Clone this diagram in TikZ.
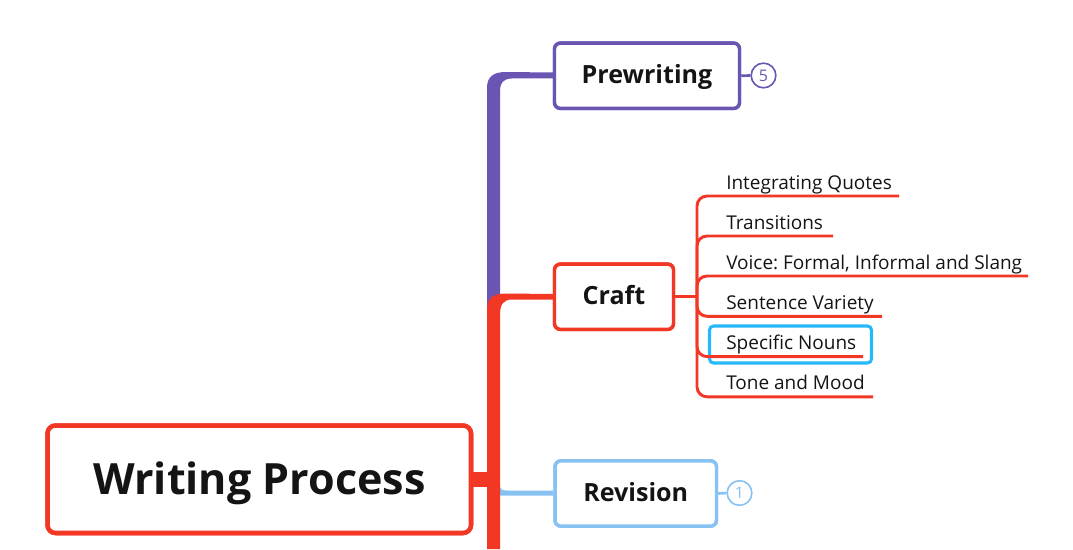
\documentclass[tikz,border=0pt]{standalone}
\usepackage{fontspec}
\setmainfont{Open Sans}
\frenchspacing
\definecolor{wred}{RGB}{243,55,37}
\definecolor{wpurple}{RGB}{106,86,178}
\definecolor{wblue}{RGB}{136,194,243}
\definecolor{wcyan}{RGB}{38,184,247}
\definecolor{wtext}{RGB}{20,20,20}
\begin{document}
\begin{tikzpicture}[x=0.75pt,y=-0.75pt,
  mainbox/.style={draw, line width=2.6pt, rounded corners=4.5pt, fill=white, inner sep=0pt,
    font=\fontsize{18.8}{22}\selectfont\bfseries, text=wtext, minimum height=49pt,
    text height=15.5pt, text depth=3.5pt},
  rootbox/.style={draw=wred, line width=3.4pt, rounded corners=6pt, fill=white, inner sep=0pt,
    font=\fontsize{32.3}{38}\selectfont\bfseries, text=wtext, minimum width=317.6pt, minimum height=80.6pt,
    text height=30pt, text depth=6.4pt},
  badge/.style={circle, draw, line width=1.2pt, fill=white, inner sep=0pt, minimum size=18.5pt,
    font=\fontsize{12}{14}\selectfont},
  childtext/.style={anchor=base west, inner sep=0pt, font=\fontsize{14.25}{17}\selectfont, text=wtext},
  ul/.style={draw=wred, line width=2.2pt, rounded corners=7.5pt},
  conn/.style={line width=2.2pt}
]
\useasboundingbox (0,0) rectangle (1073,549);

% nodes
\node[rootbox] (root) at (259.25,479.25) {Writing Process};
\node[mainbox, draw=wpurple, minimum width=138.75pt] (pre) at (647,75.75) {Prewriting};
\node[mainbox, draw=wred, minimum width=89.25pt] (craft) at (614,296.75) {Craft};
\node[mainbox, draw=wblue, minimum width=121.1pt] (rev) at (635.75,493.5) {Revision};
\node[badge, draw=wpurple, text=wpurple] (b5) at (763.5,75.5) {5};
\node[badge, draw=wblue, text=wblue] (b1) at (739.5,493) {1};

% spine branches
\fill[wblue] (499,483) .. controls (500,490) and (502,490.5) .. (508,490.5) -- (rev.west |- 0,490.5) -- (rev.west |- 0,495.5) -- (499,495.5) -- cycle;
\fill[wpurple] (487,312) -- (487,88) .. controls (487,77) and (493,72) .. (506,72) -- (pre.west |- 0,72.5) -- (pre.west |- 0,78.5) -- (512,78.5) .. controls (504,78.5) and (500,82) .. (500,92) -- (500,312) -- cycle;
\fill[wred] (487,549) -- (487,310) .. controls (487,298) and (493,293.5) .. (506,293.5) -- (craft.west |- 0,294) -- (craft.west |- 0,299.5) -- (512,299.5) .. controls (504,299.5) and (500,304) .. (500,314) -- (500,549) -- cycle;
\fill[wred] (root.east |- 0,472) rectangle (488,487);

% redraw boxes on top of branch ends
\node[rootbox] at (root) {Writing Process};
\node[mainbox, draw=wpurple, minimum width=138.75pt] at (pre) {Prewriting};
\node[mainbox, draw=wred, minimum width=89.25pt] at (craft) {Craft};
\node[mainbox, draw=wblue, minimum width=121.1pt] at (rev) {Revision};

\draw[wpurple, line width=2pt] (pre.east) -- (b5.west);
\draw[wblue, line width=2pt] (rev.east) -- (b1.west);

% craft children
\coordinate (j) at (697,296.75);
\draw[conn, wred] (craft.east) -- (j);
\node[childtext] (c1) at (726,189.3) {Integrating Quotes};
\node[childtext] (c2) at (726,229.3) {Transitions};
\node[childtext] (c3) at (726,269.3) {Voice: Formal, Informal and Slang};
\node[childtext] (c4) at (726,309.3) {Sentence Variety};
\node[draw=wcyan, line width=2.3pt, rounded corners=3pt, minimum width=121.5pt, minimum height=27.75pt, inner sep=0pt] (hl) at (790.5,344.5) {};
\node[childtext] (c5) at (726,349.6) {Specific Nouns};
\node[childtext] (c6) at (726,389.6) {Tone and Mood};
\coordinate (u1) at (899,196);
\coordinate (u2) at (833,236);
\coordinate (u3) at (1028,276);
\coordinate (u4) at (882,316.3);
\coordinate (u5) at (863,356.6);
\coordinate (u6) at (873,396.8);
\foreach \u in {u1,u2,u3,u4,u5,u6}{\draw[ul] (j) |- (\u);}
\end{tikzpicture}
\end{document}
